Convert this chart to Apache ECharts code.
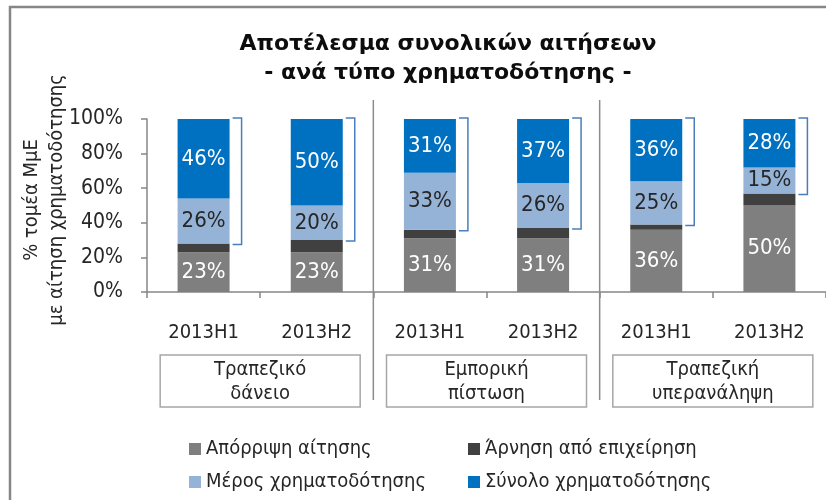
<!DOCTYPE html>
<html>
<head>
<meta charset="utf-8">
<script src="https://cdn.jsdelivr.net/npm/echarts@6/dist/echarts.min.js"></script>
<style>
  html, body { margin: 0; padding: 0; background: #fff; }
  #chart { width: 826px; height: 500px; }
</style>
</head>
<body>
<div id="chart"></div>
<script>
const chart = echarts.init(document.getElementById('chart'));

const categories = ['2013H1', '2013H2', '2013H1', '2013H2', '2013H1', '2013H2'];

// % per category, bottom to top
const rejected = [23, 23, 31, 31, 36, 50];
const declined = [5, 7, 5, 6, 3, 7];
const partial = [26, 20, 33, 26, 25, 15];
const full = [46, 50, 31, 37, 36, 28];

const seriesNames = ['Απόρριψη αίτησης', 'Άρνηση από επιχείρηση', 'Μέρος χρηματοδότησης', 'Σύνολο χρηματοδότησης'];
const colors = ['#7f7f7f', '#404040', '#95b3d7', '#0070c0'];

const groupNames = ['Τραπεζικό\nδάνειο', 'Εμπορική\nπίστωση', 'Τραπεζική\nυπερανάληψη'];
const groupSpans = [[0, 1], [2, 3], [4, 5]];

const FONT = '"DejaVu Sans Condensed", "DejaVu Sans", sans-serif';
const TEXT = '#262626';
const BAR_W = 52;

function barSeries(idx, values, labelColor, showLabel) {
  return {
    name: seriesNames[idx],
    type: 'bar',
    stack: 'total',
    barWidth: BAR_W,
    data: values,
    itemStyle: { color: colors[idx] },
    label: {
      show: showLabel,
      position: 'inside',
      formatter: '{c}%',
      color: labelColor,
      fontFamily: FONT,
      fontSize: 22
    }
  };
}

const option = {
  animation: false,
  grid: { left: 147, top: 119, width: 684, height: 173 },
  xAxis: {
    type: 'category',
    data: categories,
    axisLine: { lineStyle: { color: '#868686', width: 1.5 } },
    axisTick: { show: true, length: 6, lineStyle: { color: '#868686', width: 1.5 } },
    axisLabel: { color: TEXT, fontFamily: FONT, fontSize: 20, margin: 31 }
  },
  yAxis: {
    type: 'value',
    min: 0,
    max: 100,
    interval: 20,
    splitLine: { show: false },
    axisLine: { show: true, lineStyle: { color: '#868686', width: 1.5 } },
    axisTick: { show: true, length: 6, lineStyle: { color: '#868686', width: 1.5 } },
    axisLabel: { formatter: '{value}%', color: TEXT, fontFamily: FONT, fontSize: 21, margin: 24 }
  },
  legend: [
    {
      data: [seriesNames[0], seriesNames[2]],
      orient: 'vertical',
      left: 184,
      top: 433,
      icon: 'rect',
      itemWidth: 12,
      itemHeight: 12,
      itemGap: 11,
      textStyle: { color: TEXT, fontFamily: FONT, fontSize: 20, lineHeight: 22 }
    },
    {
      data: [seriesNames[1], seriesNames[3]],
      orient: 'vertical',
      left: 463,
      top: 433,
      icon: 'rect',
      itemWidth: 12,
      itemHeight: 12,
      itemGap: 11,
      textStyle: { color: TEXT, fontFamily: FONT, fontSize: 20, lineHeight: 22 }
    }
  ],
  series: [
    barSeries(0, rejected, '#ffffff', true),
    barSeries(1, declined, '#ffffff', false),
    barSeries(2, partial, TEXT, true),
    barSeries(3, full, '#ffffff', true),
    {
      // brackets spanning the financed part of each bar
      type: 'custom',
      name: 'brackets',
      clip: false,
      silent: true,
      z: 5,
      data: categories.map((c, i) => [i, rejected[i] + declined[i], 100]),
      encode: { x: 0, y: [1, 2] },
      renderItem: function (params, api) {
        const lo = api.coord([api.value(0), api.value(1)]);
        const hi = api.coord([api.value(0), api.value(2)]);
        const xr = lo[0] + BAR_W / 2;
        return {
          type: 'polyline',
          shape: { points: [[xr + 3, hi[1] - 1], [xr + 12, hi[1] - 1], [xr + 12, lo[1] + 1], [xr + 3, lo[1] + 1]] },
          style: { stroke: '#4a7ebb', lineWidth: 1.5, fill: null }
        };
      }
    },
    {
      // group separators and group boxes under the axis
      type: 'custom',
      name: 'groups',
      clip: false,
      silent: true,
      data: groupSpans,
      encode: { x: [0, 1] },
      renderItem: function (params, api) {
        const band = api.size([1, 0])[0];
        const p0 = api.coord([api.value(0), 0]);
        const p1 = api.coord([api.value(1), 0]);
        const top = api.coord([api.value(0), 100])[1];
        const left = p0[0] - band / 2;
        const right = p1[0] + band / 2;
        const cx = (left + right) / 2;
        const base = p0[1];
        const children = [
          {
            type: 'rect',
            shape: { x: cx - 100, y: base + 63, width: 200, height: 52 },
            style: { fill: '#ffffff', stroke: '#a6a6a6', lineWidth: 1.5 }
          },
          {
            type: 'text',
            style: {
              text: groupNames[params.dataIndex],
              x: cx, y: base + 90,
              align: 'center', verticalAlign: 'middle',
              font: '20px ' + FONT, lineHeight: 24, fill: TEXT
            }
          }
        ];
        if (params.dataIndex > 0) {
          children.push({
            type: 'line',
            shape: { x1: left, y1: top - 19, x2: left, y2: base + 108 },
            style: { stroke: '#8c8c8c', lineWidth: 1.5 }
          });
        }
        return { type: 'group', children: children };
      }
    }
  ],
  graphic: [
    {
      type: 'rect',
      shape: { x: 10, y: 7, width: 840, height: 520 },
      style: { fill: null, stroke: '#868686', lineWidth: 2.5 },
      silent: true
    },
    {
      type: 'text',
      x: 448,
      y: 30,
      style: {
        text: 'Αποτέλεσμα συνολικών αιτήσεων\n- ανά τύπο χρηματοδότησης -',
        align: 'center',
        verticalAlign: 'top',
        font: 'bold 22px "DejaVu Sans", sans-serif',
        lineHeight: 29,
        fill: '#0d0d0d'
      }
    },
    {
      type: 'text',
      x: 44,
      y: 200,
      rotation: Math.PI / 2,
      style: {
        text: '% τομέα ΜμΕ\nμε αίτηση χρηματοδότησης',
        align: 'center',
        verticalAlign: 'middle',
        font: '20px ' + FONT,
        lineHeight: 25,
        fill: TEXT
      }
    }
  ]
};

chart.setOption(option);
</script>
</body>
</html>
